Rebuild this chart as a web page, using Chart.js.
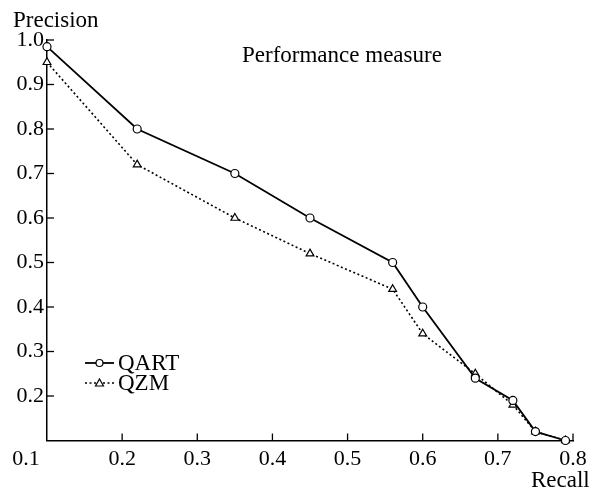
<!DOCTYPE html>
<html>
<head>
<meta charset="utf-8">
<script src="https://cdn.jsdelivr.net/npm/chart.js@4.4.1/dist/chart.umd.min.js"></script>
<style>
  html, body { margin: 0; padding: 0; background: #fff; }
  #wrap { width: 589px; height: 491px; }
</style>
</head>
<body>
<div id="wrap"><canvas id="prChart" width="589" height="491"></canvas></div>
<script>
// data
var recall = [0.10, 0.22, 0.35, 0.45, 0.56, 0.60, 0.67, 0.72, 0.75, 0.79];
var qartPrecision = [0.985, 0.80, 0.70, 0.60, 0.50, 0.40, 0.24, 0.19, 0.12, 0.10];
var qzmPrecision = [0.95, 0.72, 0.60, 0.52, 0.44, 0.34, 0.25, 0.18, 0.12, 0.10];
var xTicks = [0.1, 0.2, 0.3, 0.4, 0.5, 0.6, 0.7, 0.8];
var yTicks = [0.2, 0.3, 0.4, 0.5, 0.6, 0.7, 0.8, 0.9, 1.0];

var FONT = 'Liberation Serif, Times New Roman, serif';

function toPoints(xs, ys) {
    return xs.map(function(x, i) { return { x: x, y: ys[i] }; });
}

// inward ticks, x labels, axis titles, legend
var decorPlugin = {
    id: 'decor',
    afterDraw: function(chart) {
        var ctx = chart.ctx;
        var xs = chart.scales.x, ys = chart.scales.y;
        var area = chart.chartArea;
        ctx.save();
        ctx.strokeStyle = '#000';
        ctx.lineWidth = 1.3;
        xTicks.forEach(function(v) {
            if (v === 0.1) return;
            var px = xs.getPixelForValue(v);
            ctx.beginPath();
            ctx.moveTo(px, area.bottom);
            ctx.lineTo(px, area.bottom - 7);
            ctx.stroke();
        });
        yTicks.forEach(function(v) {
            var py = ys.getPixelForValue(v);
            ctx.beginPath();
            ctx.moveTo(area.left, py);
            ctx.lineTo(area.left + 7, py);
            ctx.stroke();
        });

        ctx.fillStyle = '#000';
        ctx.font = '22px ' + FONT;
        ctx.textAlign = 'center';
        ctx.textBaseline = 'middle';
        xTicks.forEach(function(v) {
            var px = xs.getPixelForValue(v);
            if (v === 0.1) px -= 21;
            ctx.fillText(v.toFixed(1), px, area.bottom + 19);
        });

        ctx.font = '23px ' + FONT;
        ctx.textAlign = 'left';
        ctx.fillText('Precision', 13, 21);
        ctx.fillText('Recall', 531, 481);
        ctx.fillText('Performance measure', 242, 56);

        // legend
        chart.data.datasets.forEach(function(ds, i) {
            var ly = 363 + i * 20;
            ctx.beginPath();
            ctx.setLineDash(ds.borderDash || []);
            ctx.lineWidth = ds.borderWidth;
            ctx.moveTo(85, ly);
            ctx.lineTo(114, ly);
            ctx.stroke();
            ctx.setLineDash([]);
            ctx.lineWidth = 1.2;
            ctx.fillStyle = '#fff';
            ctx.beginPath();
            if (ds.pointStyle === 'triangle') {
                ctx.moveTo(99.5, ly - 4);
                ctx.lineTo(103.5, ly + 3);
                ctx.lineTo(95.5, ly + 3);
                ctx.closePath();
            } else {
                ctx.arc(99.5, ly, 3.5, 0, Math.PI * 2);
            }
            ctx.fill();
            ctx.stroke();
            ctx.fillStyle = '#000';
            ctx.font = '23px ' + FONT;
            ctx.fillText(ds.label, 118, ly + 1);
        });
        ctx.restore();
    }
};

document.addEventListener('DOMContentLoaded', function() {
    var ctx = document.getElementById('prChart').getContext('2d');
    var prChart = new Chart(ctx, {
        type: 'line',
        data: {
            datasets: [
                {
                    label: 'QART',
                    data: toPoints(recall, qartPrecision),
                    borderColor: '#000',
                    borderWidth: 1.8,
                    pointStyle: 'circle',
                    pointRadius: 4,
                    pointBackgroundColor: '#fff',
                    pointBorderColor: '#000',
                    pointBorderWidth: 1.2,
                    tension: 0,
                    clip: false
                },
                {
                    label: 'QZM',
                    data: toPoints(recall, qzmPrecision),
                    borderColor: '#000',
                    borderWidth: 1.6,
                    borderDash: [2, 2.5],
                    pointStyle: 'triangle',
                    pointRadius: 4.5,
                    pointBackgroundColor: '#fff',
                    pointBorderColor: '#000',
                    pointBorderWidth: 1.2,
                    tension: 0,
                    clip: false
                }
            ]
        },
        options: {
            responsive: false,
            animation: false,
            layout: { padding: { left: 0, top: 40, right: 16, bottom: 0 } },
            plugins: {
                legend: { display: false },
                tooltip: { enabled: false }
            },
            scales: {
                x: {
                    type: 'linear',
                    min: 0.1,
                    max: 0.8,
                    grid: { display: false },
                    border: { display: true, color: '#000', width: 1.5 },
                    ticks: { display: false, stepSize: 0.1 },
                    afterFit: function(scale) { scale.height = 50.5; }
                },
                y: {
                    min: 0.1,
                    max: 1.0,
                    grid: { display: false },
                    border: { display: true, color: '#000', width: 1.5 },
                    ticks: {
                        stepSize: 0.1,
                        padding: -5,
                        color: '#000',
                        font: { family: FONT, size: 22 },
                        callback: function(v) {
                            return v < 0.15 ? '' : Number(v).toFixed(1);
                        }
                    },
                    afterFit: function(scale) { scale.width = 47; }
                }
            }
        },
        plugins: [decorPlugin]
    });
});
</script>
</body>
</html>
